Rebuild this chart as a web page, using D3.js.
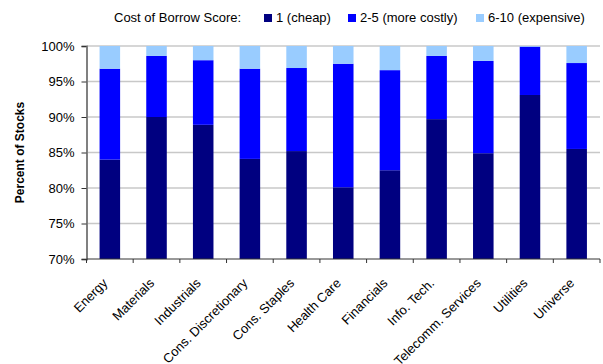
<!DOCTYPE html>
<html>
<head>
<meta charset="utf-8">
<script src="https://cdn.jsdelivr.net/npm/d3@7"></script>
<style>
  html, body { margin: 0; padding: 0; background: #fff; }
  svg { display: block; font-family: "Liberation Sans", Arial, sans-serif; }
</style>
</head>
<body>
<svg id="chart" width="603" height="364"></svg>
<script>
// Sectors and the share of stocks in each cost-of-borrow bucket (%)
const sectors = ["Energy", "Materials", "Industrials", "Cons. Discretionary", "Cons. Staples",
  "Health Care", "Financials", "Info. Tech.", "Telecomm. Services", "Utilities", "Universe"];
const cheap =     [84.0, 90.0, 88.9, 84.1, 85.2, 80.1, 82.5, 89.7, 84.9, 93.1, 85.5];
const moreCostly = [12.8, 8.6, 9.1, 12.7, 11.7, 17.4, 14.1, 8.9, 13.0, 6.8, 12.1];
const expensive =  [3.2, 1.4, 2.0, 3.2, 3.1, 2.5, 3.4, 1.4, 2.1, 0.1, 2.4];

const seriesNames = ["1 (cheap)", "2-5 (more costly)", "6-10 (expensive)"];
const seriesColors = ["#000080", "#0000FF", "#99CCFF"];
const yTicks = [70, 75, 80, 85, 90, 95, 100];
const legendTitle = "Cost of Borrow Score:";
const yTitle = "Percent of Stocks";

const svg = d3.select("#chart");
const plotLeft = 86.5, plotRight = 600, plotTop = 46, plotBottom = 259;

const rows = sectors.map((s, i) => ({ sector: s, cheap: cheap[i], costly: moreCostly[i], expensive: expensive[i] }));
const stack = d3.stack().keys(["cheap", "costly", "expensive"])(rows);

const x = d3.scaleBand().domain(sectors).range([plotLeft, plotRight]).paddingInner(0.56).paddingOuter(0.28);
const xTickScale = d3.scaleBand().domain(sectors).range([plotLeft, plotRight]);
const y = d3.scaleLinear().domain([70, 100]).range([plotBottom, plotTop]);

// Horizontal gridlines
svg.append("g")
  .selectAll("line")
  .data(yTicks.filter(t => t > 70))
  .join("line")
  .attr("x1", plotLeft).attr("x2", plotRight)
  .attr("y1", d => y(d)).attr("y2", d => y(d))
  .attr("stroke", "#c8c8c8").attr("stroke-width", 1.5);

// Stacked bars, clipped to the visible 70–100% range
svg.append("clipPath").attr("id", "plot-clip")
  .append("rect").attr("x", plotLeft).attr("y", plotTop)
  .attr("width", plotRight - plotLeft).attr("height", plotBottom - plotTop);

const bars = svg.append("g").attr("clip-path", "url(#plot-clip)");
stack.forEach((layer, k) => {
  bars.append("g").attr("fill", seriesColors[k])
    .selectAll("rect")
    .data(layer)
    .join("rect")
    .attr("x", d => x(d.data.sector))
    .attr("width", x.bandwidth())
    .attr("y", d => y(Math.min(d[1], 100)))
    .attr("height", d => y(d[0]) - y(Math.min(d[1], 100)));
});

// Y axis
const yAxis = svg.append("g")
  .attr("transform", `translate(${plotLeft},0)`)
  .call(d3.axisLeft(y).tickValues(yTicks).tickFormat(d => d + "%").tickSize(5).tickPadding(7));
yAxis.select(".domain").attr("stroke", "#808080").attr("stroke-width", 2);
yAxis.selectAll(".tick line").attr("stroke", "#333");
yAxis.selectAll("text").attr("font-size", 13).attr("fill", "#000")
  .attr("font-family", "Liberation Sans, Arial, sans-serif");

// X axis with ticks on band boundaries
const xg = svg.append("g").attr("transform", `translate(0,${plotBottom})`);
xg.append("line").attr("x1", plotLeft).attr("x2", plotRight).attr("y1", 0).attr("y2", 0)
  .attr("stroke", "#333").attr("stroke-width", 1);
const boundaries = sectors.map(s => xTickScale(s)).concat([plotRight]);
xg.selectAll(".xtick").data(boundaries).join("line")
  .attr("class", "xtick")
  .attr("x1", d => d).attr("x2", d => d).attr("y1", 0).attr("y2", 4)
  .attr("stroke", "#333");
xg.selectAll(".xlabel").data(sectors).join("text")
  .attr("class", "xlabel")
  .attr("transform", d => `translate(${xTickScale(d) + xTickScale.bandwidth() / 2 - 1.5},${25}) rotate(-45)`)
  .attr("text-anchor", "end")
  .attr("font-size", 13)
  .text(d => d);

// Y axis title
svg.append("text")
  .attr("transform", `translate(24,${(plotTop + plotBottom) / 2}) rotate(-90)`)
  .attr("text-anchor", "middle")
  .attr("font-size", 12).attr("font-weight", "bold")
  .text(yTitle);

// Legend
const legend = svg.append("g");
legend.append("text").attr("x", 114).attr("y", 22).attr("font-size", 13).text(legendTitle);
const legendX = [264, 348, 476];
seriesNames.forEach((name, i) => {
  legend.append("rect").attr("x", legendX[i]).attr("y", 14).attr("width", 8).attr("height", 8)
    .attr("fill", seriesColors[i]);
  legend.append("text").attr("x", legendX[i] + 12).attr("y", 22).attr("font-size", 13).text(name);
});
</script>
</body>
</html>
